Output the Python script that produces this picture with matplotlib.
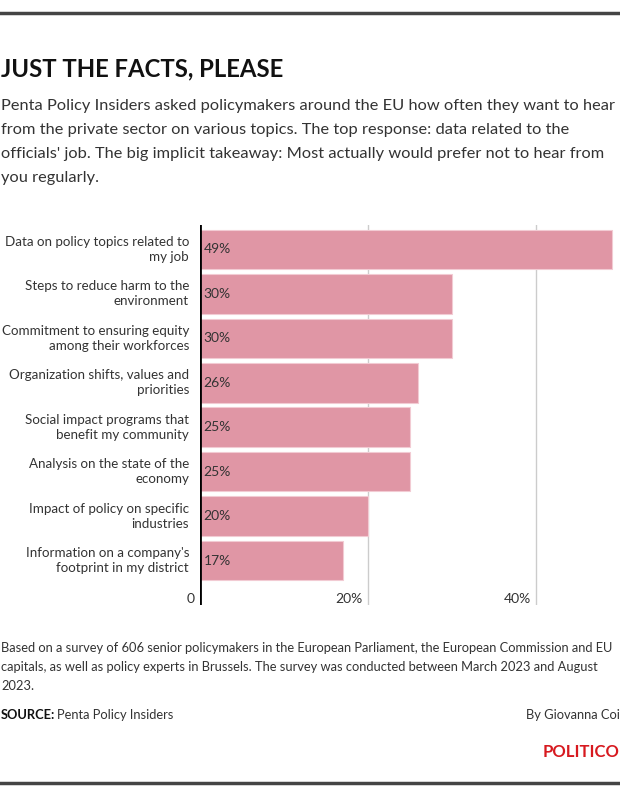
import matplotlib
matplotlib.use('Agg')
import matplotlib.pyplot as plt
from matplotlib.lines import Line2D

plt.rcParams['font.family'] = ['Lato', 'DejaVu Sans']

# data
categories = [
    'Data on policy topics related to\nmy job',
    'Steps to reduce harm to the\nenvironment',
    'Commitment to ensuring equity\namong their workforces',
    'Organization shifts, values and\npriorities',
    'Social impact programs that\nbenefit my community',
    'Analysis on the state of the\neconomy',
    'Impact of policy on specific\nindustries',
    "Information on a company's\nfootprint in my district",
]
values = [49, 30, 30, 26, 25, 25, 20, 17]
tick_values = [0, 20, 40]
tick_labels = ['0', '20%', '40%']

title = 'JUST THE FACTS, PLEASE'
subtitle = ('Penta Policy Insiders asked policymakers around the EU how often they want to hear\n'
            'from the private sector on various topics. The top response: data related to the\n'
            "officials' job. The big implicit takeaway: Most actually would prefer not to hear from\n"
            'you regularly.')
note = ('Based on a survey of 606 senior policymakers in the European Parliament, the European Commission and EU\n'
        'capitals, as well as policy experts in Brussels. The survey was conducted between March 2023 and August\n'
        '2023.')

W, H = 620, 807
BAR = '#E096A5'
TXT = '#333333'

fig = plt.figure(figsize=(W / 100, H / 100), dpi=100)

def fx(x):
    return x / W

def fy(y):
    return 1 - y / H

# plot area
ax = fig.add_axes([fx(200), fy(605), fx(420), (605 - 225) / H])
ys = list(range(len(values)))
ax.barh(ys, values, height=0.89, color=BAR, edgecolor='#F2CBD3', linewidth=0.8, zorder=2)
ax.set_xlim(0, 50)
ax.set_ylim(8.0, -0.55)

for v in tick_values[1:]:
    ax.axvline(v, color='#CCCCCC', lw=1, zorder=1)
ax.axvline(0, color='black', lw=2, zorder=3)

for y, v, c in zip(ys, values, categories):
    ax.text(0.4, y, f'{v}%', va='center', ha='left', fontsize=10, color=TXT, zorder=4)
    ax.text(-1.3, y, c, va='center', ha='right', fontsize=9.6, color=TXT,
            linespacing=1.3)

for v, lab in zip(tick_values, tick_labels):
    ax.text(v - 0.6, 7.86, lab, va='center', ha='right', fontsize=10, color=TXT)

ax.set_xticks([])
ax.set_yticks([])
for s in ax.spines.values():
    s.set_visible(False)
ax.patch.set_alpha(0)

# header
fig.add_artist(Line2D([0, 1], [fy(13), fy(13)], color='#444444', lw=2.5))
fig.text(fx(1), fy(69), title, fontsize=17.2, fontweight='bold', color='#111111', va='center')
fig.text(fx(1), fy(142), subtitle, fontsize=11.8, color=TXT, va='center', linespacing=1.9)

# footer
fig.text(fx(1), fy(667), note, fontsize=9.3, color=TXT, va='center', linespacing=1.65)
fig.text(fx(1), fy(715), 'SOURCE:', fontsize=9.3, fontweight='bold', color='#111111', va='center')
fig.text(fx(57), fy(715), 'Penta Policy Insiders', fontsize=9.3, color=TXT, va='center')
fig.text(1, fy(715), 'By Giovanna Coi', fontsize=9.3, color=TXT, va='center', ha='right')
fig.text(1, fy(752), 'POLITICO', fontsize=12, fontweight='bold', color='#D7191F', va='center', ha='right')
fig.add_artist(Line2D([0, 1], [fy(783), fy(783)], color='#444444', lw=2.5))

fig.savefig('out.png', dpi=100)
